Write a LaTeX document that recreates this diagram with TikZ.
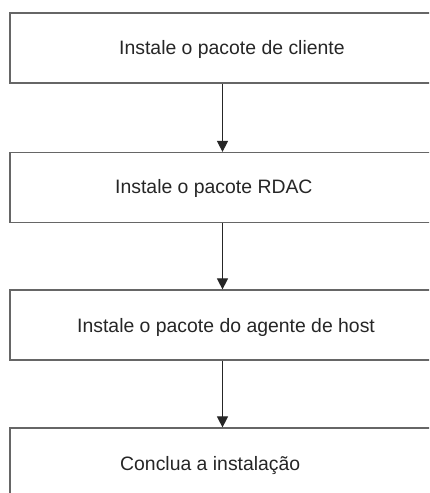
\documentclass[tikz,border=0pt]{standalone}
\usepackage{fontspec}
\setmainfont{Liberation Sans}
\usetikzlibrary{arrows.meta}
\begin{document}
\begin{tikzpicture}[x=1pt,y=-1pt,
  stepbox/.style={draw=black!60, line width=1.2pt, rectangle, inner sep=0pt,
    minimum width=425pt, minimum height=70pt},
  label/.style={anchor=base west, inner sep=0pt, text=black!85,
    font=\fontsize{19.4}{23}\selectfont},
  arr/.style={draw=black!85, line width=1pt, -{Triangle[width=11pt,length=11pt]}}]
\useasboundingbox (0,0) rectangle (429,493);
\clip (0,0) rectangle (429,493);
\fill[white] (0,0) rectangle (429,493);
\node[stepbox] (b1) at (222.5,48) {};
\node[stepbox] (b2) at (222.5,187.5) {};
\node[stepbox] (b3) at (222.5,325) {};
\node[stepbox] (b4) at (222.5,463) {};
\node[label] (t1) at (119,54) {Instale o pacote de cliente};
\node[label] (t2) at (115,193) {Instale o pacote RDAC};
\node[label] (t3) at (77,332) {Instale o pacote do agente de host};
\node[label] (t4) at (120,470) {Conclua a instalação};
\draw[arr] (b1.south) -- (b2.north);
\draw[arr] (b2.south) -- (b3.north);
\draw[arr] (b3.south) -- (b4.north);
\end{tikzpicture}
\end{document}
